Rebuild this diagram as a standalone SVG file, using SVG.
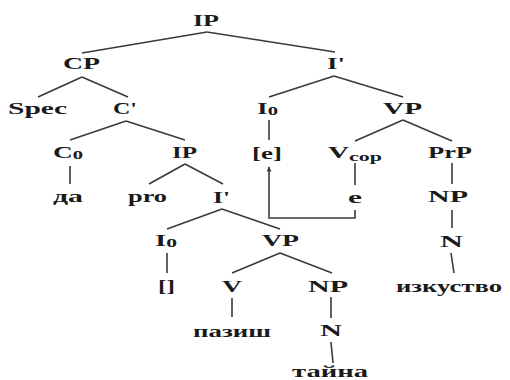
<svg xmlns="http://www.w3.org/2000/svg" width="510" height="380" viewBox="0 0 510 380">
<defs>
<style>
.t text{font-family:"Liberation Serif","DejaVu Serif","Times New Roman",serif;font-weight:700;font-size:16px;fill:#1a1a1a}
.t .sub{font-size:12px}
#edges line,#edges path{stroke:#3a3a3a;stroke-width:1.6;fill:none}
</style>
<marker id="ah" viewBox="0 0 10 10" refX="9" refY="5" markerWidth="6" markerHeight="5" orient="auto" markerUnits="userSpaceOnUse">
<path d="M0,0 L10,5 L0,10 Z" fill="#3a3a3a"/>
</marker>
</defs>
<rect width="510" height="380" fill="#fff"/>
<g id="edges">
<line x1="207" y1="32" x2="82" y2="53"/>
<line x1="207" y1="32" x2="335" y2="52"/>
<line x1="82" y1="77" x2="38" y2="97"/>
<line x1="82" y1="77" x2="128" y2="97"/>
<line x1="126" y1="121" x2="70" y2="140"/>
<line x1="126" y1="121" x2="185" y2="140"/>
<line x1="334" y1="76" x2="269" y2="97"/>
<line x1="334" y1="76" x2="403" y2="97"/>
<line x1="269" y1="120" x2="269" y2="140"/>
<line x1="403" y1="120" x2="355" y2="141"/>
<line x1="403" y1="120" x2="452" y2="141"/>
<line x1="70" y1="166" x2="70" y2="184"/>
<line x1="185" y1="164" x2="149" y2="184"/>
<line x1="185" y1="164" x2="223" y2="184"/>
<line x1="355" y1="163" x2="355" y2="185"/>
<line x1="452" y1="163" x2="452" y2="184"/>
<line x1="222" y1="209" x2="167" y2="229"/>
<line x1="222" y1="209" x2="280" y2="229"/>
<line x1="452" y1="210" x2="452" y2="228"/>
<line x1="167" y1="253" x2="167" y2="273"/>
<line x1="280" y1="253" x2="232" y2="273"/>
<line x1="280" y1="253" x2="332" y2="273"/>
<line x1="451" y1="253" x2="454" y2="273"/>
<line x1="232" y1="298" x2="232" y2="317"/>
<line x1="331" y1="297" x2="331" y2="318"/>
<line x1="331" y1="342" x2="333" y2="363"/>
<path d="M355,210 V218 H269 V167" stroke-width="1.3" marker-end="url(#ah)"/>
</g>
<g class="t">
<g id="n-ip"><text x="193" y="26" textLength="26" lengthAdjust="spacingAndGlyphs">IP</text></g>
<g id="n-cp"><text x="63" y="69" textLength="37" lengthAdjust="spacingAndGlyphs">CP</text></g>
<g id="n-ibar"><text x="327" y="69" textLength="18" lengthAdjust="spacingAndGlyphs">I'</text></g>
<g id="n-spec"><text x="8" y="114" textLength="59" lengthAdjust="spacingAndGlyphs">Spec</text></g>
<g id="n-cbar"><text x="113" y="114" textLength="24" lengthAdjust="spacingAndGlyphs">C'</text></g>
<g id="n-i0"><text x="257" y="114" textLength="21" lengthAdjust="spacingAndGlyphs">I<tspan class="sub" dy="1">0</tspan></text></g>
<g id="n-vp"><text x="383" y="114" textLength="39" lengthAdjust="spacingAndGlyphs">VP</text></g>
<g id="n-c0"><text x="53" y="158" textLength="30" lengthAdjust="spacingAndGlyphs">C<tspan class="sub" dy="1">0</tspan></text></g>
<g id="n-ip2"><text x="172" y="158" textLength="25" lengthAdjust="spacingAndGlyphs">IP</text></g>
<g id="n-e1"><text x="252" y="159" textLength="30" lengthAdjust="spacingAndGlyphs">[e]</text></g>
<g id="n-vcop"><text x="328" y="158" textLength="54" lengthAdjust="spacingAndGlyphs">V<tspan class="sub" dy="3">cop</tspan></text></g>
<g id="n-prp"><text x="428" y="158" textLength="44" lengthAdjust="spacingAndGlyphs">PrP</text></g>
<g id="n-da"><text x="53" y="202" textLength="30" lengthAdjust="spacingAndGlyphs">да</text></g>
<g id="n-pro"><text x="128" y="202" textLength="39" lengthAdjust="spacingAndGlyphs">pro</text></g>
<g id="n-ibar2"><text x="213" y="203" textLength="17" lengthAdjust="spacingAndGlyphs">I'</text></g>
<g id="n-e2"><text x="348" y="203" textLength="14" lengthAdjust="spacingAndGlyphs">e</text></g>
<g id="n-np1"><text x="428" y="202" textLength="40" lengthAdjust="spacingAndGlyphs">NP</text></g>
<g id="n-i02"><text x="155" y="246" textLength="22" lengthAdjust="spacingAndGlyphs">I<tspan class="sub" dy="1">0</tspan></text></g>
<g id="n-vp2"><text x="262" y="246" textLength="37" lengthAdjust="spacingAndGlyphs">VP</text></g>
<g id="n-n1"><text x="440" y="247" textLength="23" lengthAdjust="spacingAndGlyphs">N</text></g>
<g id="n-empty"><text x="158" y="292" textLength="17" lengthAdjust="spacingAndGlyphs">[]</text></g>
<g id="n-v"><text x="222" y="292" textLength="20" lengthAdjust="spacingAndGlyphs">V</text></g>
<g id="n-np2"><text x="308" y="292" textLength="40" lengthAdjust="spacingAndGlyphs">NP</text></g>
<g id="n-izk"><text x="396" y="292" textLength="106" lengthAdjust="spacingAndGlyphs">изкуство</text></g>
<g id="n-paz"><text x="193" y="337" textLength="78" lengthAdjust="spacingAndGlyphs">пазиш</text></g>
<g id="n-n2"><text x="320" y="336" textLength="22" lengthAdjust="spacingAndGlyphs">N</text></g>
<g id="n-tai"><text x="292" y="377" textLength="76" lengthAdjust="spacingAndGlyphs">тайна</text></g>
</g>
</svg>
